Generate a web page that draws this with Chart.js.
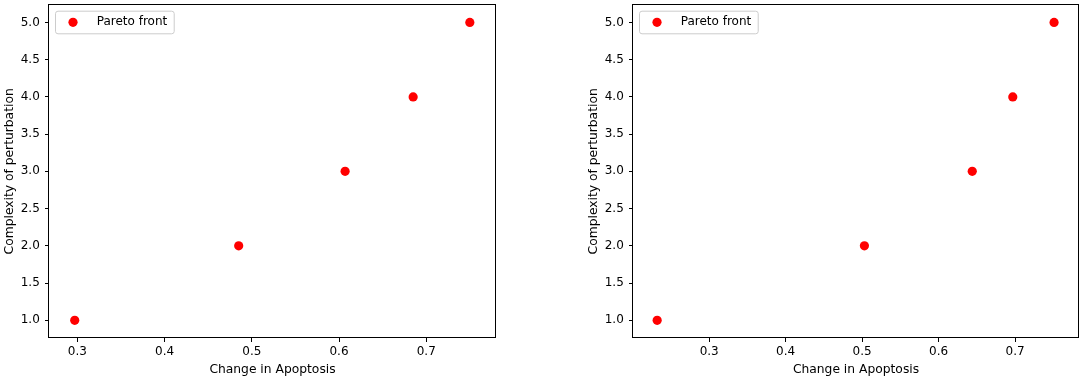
<!DOCTYPE html>
<html>
<head>
<meta charset="utf-8">
<script src="https://cdn.jsdelivr.net/npm/chart.js@4.4.1/dist/chart.umd.min.js"></script>
<style>
  html, body { margin: 0; padding: 0; background: #fff; }
  #wrap { position: relative; width: 1084px; height: 380px; }
  canvas { position: absolute; top: 0; }
  #graficoEsq { left: 0; }
  #graficoDir { left: 584px; }
</style>
</head>
<body>
<div id="wrap">
  <canvas id="graficoEsq" width="520" height="380"></canvas>
  <canvas id="graficoDir" width="500" height="380"></canvas>
</div>
<script>
// dados
const complexidade = [1, 2, 3, 4, 5];
const apoptoseEsq = [0.297, 0.485, 0.607, 0.685, 0.750];
const apoptoseDir = [0.232, 0.503, 0.644, 0.697, 0.751];

// limites dos eixos
const limitesXEsq = [0.2675, 0.780];
const limitesXDir = [0.2004, 0.7836];
const limitesY = [0.762, 5.238];

const rotuloLegenda = "Pareto front";
const tituloX = "Change in Apoptosis";
const tituloY = "Complexity of perturbation";

const FONTE = "'DejaVu Sans', sans-serif";
const VERMELHO = "#ff0000";

// ============================
// moldura dos 4 lados + legenda no canto
// ============================
const molduraLegenda = {
  id: "molduraLegenda",
  afterDraw(chart) {
    const { ctx, chartArea: a } = chart;
    ctx.save();

    // legenda
    ctx.font = "12px " + FONTE;
    const larguraTexto = ctx.measureText(rotuloLegenda).width;
    const bx = a.left + 6, by = a.top + 6;
    const bw = 47.7 - 6 + larguraTexto + 6.5, bh = 22.6;
    ctx.beginPath();
    ctx.roundRect(bx + 0.5, by + 0.5, bw, bh, 2.5);
    ctx.fillStyle = "rgba(255,255,255,0.8)";
    ctx.fill();
    ctx.strokeStyle = "#cccccc";
    ctx.lineWidth = 1;
    ctx.stroke();

    ctx.beginPath();
    ctx.arc(a.left + 24, a.top + 17.6, 4.6, 0, Math.PI * 2);
    ctx.fillStyle = VERMELHO;
    ctx.fill();

    ctx.fillStyle = "#000";
    ctx.textAlign = "left";
    ctx.textBaseline = "middle";
    ctx.fillText(rotuloLegenda, a.left + 47.7, a.top + 17.6);

    // moldura
    ctx.strokeStyle = "#000";
    ctx.lineWidth = 1;
    const l = Math.round(a.left) - 0.5, t = Math.round(a.top) - 0.5;
    const r = Math.round(a.right) - 0.5, b = Math.round(a.bottom) - 0.5;
    ctx.strokeRect(l, t, r - l, b - t);
    ctx.restore();
  }
};

function criarGrafico(idCanvas, xs, limitesX, padDireita) {
  const ctx = document.getElementById(idCanvas).getContext("2d");
  const pontos = xs.map((x, i) => ({ x: x, y: complexidade[i] }));

  return new Chart(ctx, {
    type: "scatter",
    data: {
      datasets: [{
        label: rotuloLegenda,
        data: pontos,
        pointRadius: 4.6,
        pointHoverRadius: 4.6,
        pointBackgroundColor: VERMELHO,
        pointBorderWidth: 0
      }]
    },
    options: {
      responsive: false,
      animation: false,
      events: [],
      layout: { padding: { top: 4.7, right: padDireita, bottom: 0, left: 0 } },
      plugins: {
        legend: { display: false },
        tooltip: { enabled: false }
      },
      scales: {
        x: {
          type: "linear",
          min: limitesX[0],
          max: limitesX[1],
          border: { display: false },
          grid: { drawOnChartArea: false, drawTicks: true, tickLength: 4, tickColor: "#000", tickWidth: 1 },
          ticks: {
            stepSize: 0.1,
            includeBounds: false,
            padding: 2.7,
            color: "#000",
            font: { family: FONTE, size: 12 },
            maxRotation: 0,
            callback: v => v.toFixed(1)
          },
          title: {
            display: true,
            text: tituloX,
            color: "#000",
            font: { family: FONTE, size: 12.3 },
            padding: { top: 0, bottom: 3.2 }
          },
          afterFit(escala) {
            escala.height = 42;
            escala.paddingLeft = 0;
            escala.paddingRight = 0;
          }
        },
        y: {
          type: "linear",
          min: limitesY[0],
          max: limitesY[1],
          border: { display: false },
          grid: { drawOnChartArea: false, drawTicks: true, tickLength: 4, tickColor: "#000", tickWidth: 1 },
          ticks: {
            stepSize: 0.5,
            includeBounds: false,
            padding: 5.2,
            color: "#000",
            font: { family: FONTE, size: 12 },
            callback: v => v.toFixed(1)
          },
          title: {
            display: true,
            text: tituloY,
            color: "#000",
            font: { family: FONTE, size: 12.3 },
            padding: { top: 2.6, bottom: 0 }
          },
          afterFit(escala) {
            escala.width = 49;
            escala.paddingTop = 0;
            escala.paddingBottom = 0;
          }
        }
      }
    },
    plugins: [molduraLegenda]
  });
}

criarGrafico("graficoEsq", apoptoseEsq, limitesXEsq, 24);
criarGrafico("graficoDir", apoptoseDir, limitesXDir, 5);
</script>
</body>
</html>
